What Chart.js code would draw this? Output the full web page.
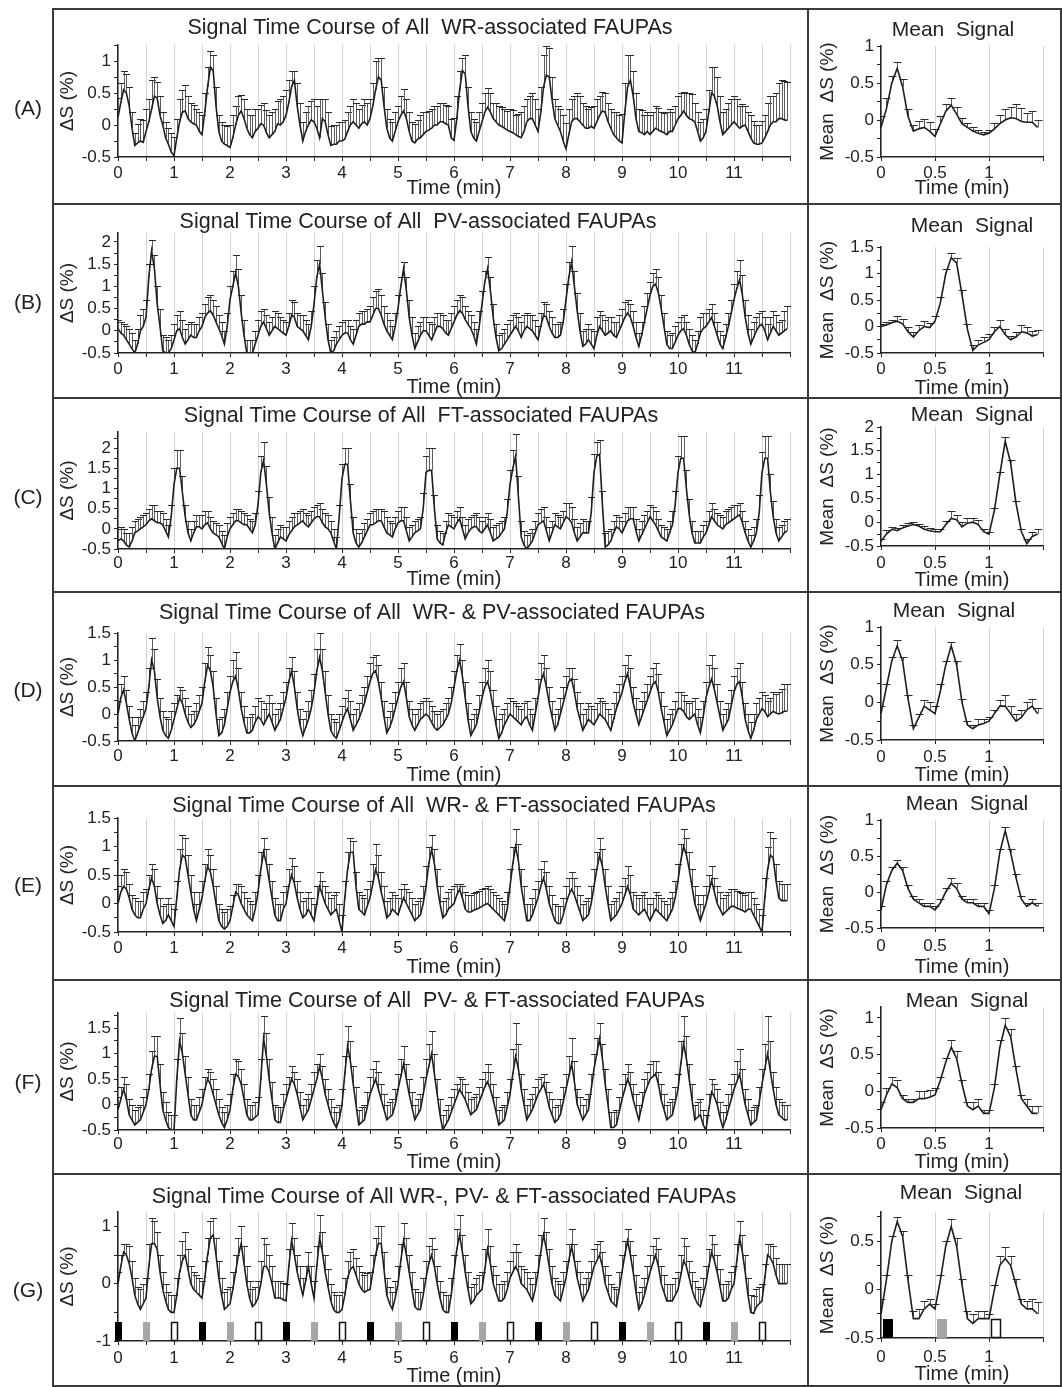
<!DOCTYPE html>
<html>
<head>
<meta charset="utf-8">
<title>Signal Time Course of FAUPAs</title>
<script src="https://cdn.jsdelivr.net/npm/chart.js@4.4.1/dist/chart.umd.min.js"></script>
<style>
  html, body { margin: 0; padding: 0; background: #fff; }
  body { position: relative; width: 1062px; height: 1387px; overflow: hidden; font-family: "Liberation Sans", Arial, sans-serif; color: #222; }
  canvas { position: absolute; }
  .rule { position: absolute; background: #3a3a3a; z-index: 2; }
  .tag { position: absolute; left: 0; width: 56px; text-align: center; font-size: 21px; line-height: 24px; }
</style>
</head>
<body>
<script>
// sampling: left panels every 0.05 min (240 samples), mean panels every 0.05 min over one cycle
const leftStep = 0.05;
const leftTime = Array.from({ length: 240 }, (_, i) => Math.round(i * leftStep * 100) / 100);
const meanTime = [0, 0.05, 0.1, 0.15, 0.2, 0.25, 0.3, 0.35, 0.4, 0.45, 0.5, 0.55, 0.6, 0.65, 0.7,
  0.75, 0.8, 0.85, 0.9, 0.95, 1, 1.05, 1.1, 1.15, 1.2, 1.25, 1.3, 1.35, 1.4, 1.45];

const panelTags = ['(A)', '(B)', '(C)', '(D)', '(E)', '(F)', '(G)'];
const panelTitles = [
  'Signal Time Course of All  WR-associated FAUPAs',
  'Signal Time Course of All  PV-associated FAUPAs',
  'Signal Time Course of All  FT-associated FAUPAs',
  'Signal Time Course of All  WR- & PV-associated FAUPAs',
  'Signal Time Course of All  WR- & FT-associated FAUPAs',
  'Signal Time Course of All  PV- & FT-associated FAUPAs',
  'Signal Time Course of All WR-, PV- & FT-associated FAUPAs'
];
const meanTitle = 'Mean  Signal';
const meanXTitles = ['Time (min)', 'Time (min)', 'Time (min)', 'Time (min)', 'Time (min)', 'Timg (min)', 'Time (min)'];

// (A) WR — one row per minute
const wrSig = [
  0.12, 0.35, 0.55, 0.5, 0.3, -0.05, -0.32, -0.28, -0.25, -0.27, -0.1, 0.05, 0.25, 0.45, 0.42, 0.15, 0, -0.2, -0.3, -0.42,
  -0.48, -0.2, 0.05, 0.2, 0.22, 0.1, 0.05, 0.02, 0, -0.1, -0.15, 0.2, 0.6, 0.9, 0.85, 0.3, -0.1, -0.25, -0.3, -0.32,
  -0.35, -0.2, 0, 0.15, 0.22, 0.1, -0.05, -0.15, -0.2, -0.1, -0.05, 0.02, 0, -0.12, -0.2, -0.15, -0.1, 0.02, 0, 0.05,
  0.15, 0.35, 0.6, 0.7, 0.3, 0, -0.25, -0.1, 0, 0.08, 0.05, -0.05, -0.2, 0.1, 0.05, -0.15, -0.32, -0.3, -0.3, -0.25,
  -0.25, -0.22, -0.1, 0, 0.05, 0, -0.05, 0.02, 0.05, 0, 0.1, 0.3, 0.55, 0.75, 0.7, 0.3, -0.05, -0.2, -0.25, -0.1,
  0.05, 0.15, 0.22, 0.1, -0.1, -0.25, -0.28, -0.22, -0.2, -0.15, -0.1, -0.08, -0.05, 0, 0, 0.05, 0.05, 0.02, 0, -0.2,
  -0.24, 0.1, 0.55, 0.85, 0.8, 0.3, -0.1, -0.2, -0.25, -0.1, 0.05, 0.2, 0.28, 0.2, 0.1, 0.05, 0, -0.02, -0.05, -0.08,
  -0.1, -0.12, -0.15, -0.18, -0.2, -0.1, 0.05, 0.1, 0.1, 0, -0.1, 0.2, 0.6, 0.78, 0.75, 0.4, 0.1, 0, -0.1, -0.25,
  -0.37, -0.15, 0.05, 0.1, 0.1, 0.05, 0, -0.05, -0.05, -0.02, -0.05, 0.05, 0.15, 0.22, 0.2, 0.05, -0.05, -0.15, -0.2, -0.25,
  -0.28, 0.2, 0.6, 0.7, 0.45, 0.1, -0.1, -0.12, -0.15, -0.1, -0.15, -0.1, -0.05, -0.08, -0.1, -0.12, -0.15, -0.1, -0.1, 0,
  0.1, 0.15, 0.22, 0.15, 0.1, 0.08, 0.05, -0.1, -0.25, -0.2, -0.1, 0.2, 0.5, 0.45, 0.3, 0.05, -0.15, -0.1, -0.05, 0,
  0.05, 0, -0.05, -0.02, 0, -0.1, -0.2, -0.28, -0.3, -0.3, -0.28, -0.2, -0.1, 0, 0.05, 0.05, 0.1, 0.1, 0.08, 0.07];
const wrErr = [
  .3, .3, .3, .3, .3, .25, .2, .3, .35, .35, .35, .35, .45, .3, .25, .3, .2, .25, .25, .3,
  .3, .3, .35, .35, .4, .35, .3, .3, .25, .3, .3, .3, .3, .25, .25, .3, .25, .3, .3, .3,
  .35, .35, .3, .3, .25, .3, .3, .3, .35, .35, .3, .3, .35, .35, .35, .35, .35, .35, .4, .4,
  .4, .35, .25, .15, .35, .35, .3, .3, .3, .3, .35, .35, .6, .3, .35, .35, .3, .3, .3, .3,
  .3, .3, .3, .3, .35, .35, .3, .3, .35, .35, .3, .35, .45, .3, .35, .3, .3, .3, .3, .3,
  .25, .3, .35, .3, .3, .3, .3, .3, .35, .35, .3, .3, .3, .3, .3, .3, .3, .3, .3, .3,
  .35, .35, .3, .2, .3, .3, .3, .3, .3, .3, .3, .3, .3, .3, .25, .3, .3, .3, .3, .3,
  .35, .35, .3, .35, .4, .4, .35, .35, .4, .4, .35, .4, .5, .45, .45, .35, .3, .3, .35, .4,
  .4, .4, .35, .35, .4, .4, .35, .35, .3, .3, .35, .35, .3, .3, .3, .3, .3, .35, .4, .4,
  .45, .45, .5, .4, .4, .4, .35, .35, .3, .3, .3, .3, .35, .35, .3, .3, .35, .35, .3, .3,
  .35, .35, .3, .35, .4, .4, .3, .3, .3, .3, .35, .35, .4, .45, .45, .4, .35, .35, .4, .4,
  .4, .4, .35, .35, .3, .3, .35, .35, .3, .3, .35, .35, .45, .45, .4, .45, .55, .6, .6, .6];

// (B) PV
const pvSig = [
  0.05, -0.05, -0.1, -0.2, -0.3, -0.4, -0.5, -0.3, 0, 0.1, 0.3, 1.2, 1.8, 1.4, 0.6, 0.1, -0.45, -0.5, -0.5, -0.4,
  -0.2, 0, 0.05, -0.15, -0.3, -0.2, -0.1, -0.15, -0.15, 0, 0.1, 0.3, 0.4, 0.45, 0.35, 0.2, 0.05, -0.1, -0.3, 0.1,
  0.7, 1, 1.3, 1, 0.4, -0.1, -0.5, -0.5, -0.5, -0.3, -0.1, 0.1, 0.2, 0.05, -0.1, 0, 0.1, 0.05, 0, -0.05,
  -0.1, 0.1, 0.35, 0.3, 0.1, 0.05, 0, -0.1, -0.2, 0.1, 0.6, 1.2, 1.5, 0.9, 0.3, -0.2, -0.5, -0.45, -0.3, -0.2,
  -0.1, -0.05, -0.05, -0.2, -0.3, -0.1, 0.1, 0.15, 0.15, 0.2, 0.2, 0.35, 0.5, 0.5, 0.35, 0.15, 0, -0.1, -0.2, 0.1,
  0.5, 1, 1.4, 0.9, 0.3, -0.1, -0.4, -0.25, -0.1, 0, 0, -0.1, -0.2, -0.05, 0.1, 0.1, 0.05, -0.05, -0.1, 0.05,
  0.2, 0.35, 0.45, 0.4, 0.25, 0.15, 0.05, -0.1, -0.3, 0.1, 0.6, 1.1, 1.4, 0.9, 0.3, -0.15, -0.45, -0.4, -0.3, -0.2,
  -0.1, 0, 0.1, 0, -0.15, 0, 0.1, 0.05, 0, -0.1, -0.2, 0.1, 0.35, 0.3, 0.1, -0.05, -0.15, -0.15, -0.1, 0.2,
  0.7, 1.2, 1.55, 1, 0.45, 0, -0.35, -0.3, -0.2, -0.3, -0.4, -0.1, 0.1, 0, -0.1, -0.05, 0, -0.1, -0.15, 0,
  0.15, 0.3, 0.4, 0.3, 0.1, -0.15, -0.35, -0.1, 0.2, 0.5, 0.8, 1, 1.05, 0.85, 0.5, 0.1, -0.3, -0.4, -0.4, -0.25,
  -0.1, 0, 0.05, -0.1, -0.3, -0.45, -0.5, -0.3, -0.05, 0.05, 0.1, 0.2, 0.3, 0.1, -0.1, -0.3, -0.4, -0.15, 0.1, 0.4,
  0.7, 0.95, 1.15, 0.8, 0.3, -0.05, -0.3, -0.15, 0, 0.1, 0.15, 0, -0.2, -0.05, 0.1, 0, -0.1, -0.05, 0, 0.05];
const pvErr = [
  .2, .25, .25, .3, .35, .35, .3, .35, .35, .4, .4, .3, .25, .3, .4, .4, .35, .35, .3, .3,
  .35, .35, .4, .4, .35, .35, .3, .3, .3, .3, .3, .3, .35, .35, .35, .35, .3, .3, .3, .3,
  .3, .35, .4, .4, .4, .35, .3, .3, .3, .3, .35, .35, .3, .3, .3, .3, .35, .35, .3, .3,
  .3, .3, .35, .35, .3, .3, .35, .35, .35, .35, .4, .4, .4, .4, .35, .35, .3, .3, .3, .3,
  .3, .3, .3, .3, .35, .35, .3, .3, .3, .3, .35, .4, .4, .45, .45, .4, .4, .35, .3, .3,
  .3, .2, .15, .3, .4, .4, .35, .35, .3, .3, .3, .3, .35, .35, .3, .3, .3, .3, .35, .35,
  .35, .35, .35, .35, .3, .3, .3, .3, .35, .35, .3, .25, .25, .3, .3, .3, .35, .35, .35, .35,
  .35, .35, .3, .3, .35, .35, .3, .3, .35, .35, .3, .3, .3, .3, .35, .35, .3, .3, .3, .3,
  .35, .35, .35, .35, .4, .4, .35, .35, .35, .35, .4, .4, .35, .35, .35, .35, .3, .3, .35, .35,
  .35, .35, .3, .3, .35, .35, .3, .3, .35, .35, .3, .3, .35, .35, .3, .3, .3, .3, .35, .35,
  .3, .3, .3, .3, .35, .35, .3, .3, .35, .35, .3, .3, .3, .3, .3, .3, .3, .3, .3, .3,
  .35, .4, .45, .45, .4, .4, .35, .35, .3, .3, .3, .3, .35, .35, .35, .35, .3, .3, .45, .5];

// (C) FT
const ftSig = [
  -0.3, -0.25, -0.3, -0.4, -0.45, -0.3, -0.1, -0.05, 0, 0.05, 0.1, 0.2, 0.25, 0.2, 0.15, 0.15, 0.1, -0.05, -0.2, 0.3,
  1.1, 1.5, 1.5, 0.9, 0.3, -0.1, -0.3, -0.1, 0.05, 0.05, 0, 0.1, 0.15, 0, -0.1, -0.15, -0.2, -0.35, -0.5, -0.2,
  0, 0.1, 0.2, 0.2, 0.15, 0.1, 0.1, 0, -0.1, 0.1, 0.6, 1.4, 1.7, 1.1, 0.4, -0.1, -0.5, -0.35, -0.2, -0.25,
  -0.3, -0.15, -0.05, 0.05, 0.1, 0.15, 0.2, 0.1, 0.05, 0.15, 0.25, 0.3, 0.3, 0.15, 0.05, 0, -0.1, -0.3, -0.5, 0.3,
  1.25, 1.6, 1.6, 0.7, -0.1, -0.35, -0.45, -0.35, -0.2, -0.05, 0.1, 0.1, 0.15, 0.2, 0.2, 0.05, -0.1, -0.15, -0.2, 0,
  0.15, 0.2, 0.2, -0.05, -0.3, -0.2, -0.1, -0.05, 0, 0.5, 1.4, 1.45, 1.45, 0.5, -0.25, -0.35, -0.4, -0.1, 0.1, 0.05,
  0, 0.15, 0.25, 0, -0.25, -0.1, 0, 0.05, 0.05, -0.05, -0.1, 0, 0.1, -0.1, -0.3, -0.25, -0.2, -0.1, 0, 0.4,
  1.1, 1.5, 1.8, 0.8, -0.2, -0.4, -0.5, -0.4, -0.3, -0.1, 0.1, 0.15, 0.2, -0.05, -0.3, -0.1, 0.1, 0.05, 0, 0.15,
  0.3, 0.25, 0.15, -0.1, -0.3, -0.2, -0.1, -0.1, -0.1, 0.4, 1.4, 1.8, 1.85, 0.6, -0.45, -0.4, -0.3, -0.1, 0.05, 0,
  -0.1, 0.05, 0.2, 0.25, 0.25, -0.05, -0.3, -0.15, 0, 0.15, 0.3, 0.2, 0.1, -0.05, -0.2, -0.25, -0.3, -0.1, 0.1, 0.6,
  1.4, 1.75, 1.75, 1, 0.35, -0.1, -0.35, -0.35, -0.35, -0.2, -0.1, 0.1, 0.3, 0.2, 0.1, 0.05, 0, 0.1, 0.15, 0.2,
  0.25, 0.3, 0.35, 0.15, -0.1, -0.3, -0.45, -0.3, -0.1, 0.4, 1.4, 1.75, 1.75, 0.9, 0.3, -0.1, -0.3, -0.2, -0.1, -0.05];
const ftErr = [
  .3, .3, .3, .3, .35, .35, .3, .3, .3, .3, .3, .3, .35, .4, .3, .3, .3, .3, .3, .3,
  .4, .45, .45, .4, .3, .3, .3, .3, .3, .3, .35, .35, .3, .3, .3, .3, .3, .3, .35, .35,
  .3, .3, .3, .3, .3, .3, .25, .25, .3, .3, .35, .4, .45, .45, .4, .4, .35, .35, .3, .3,
  .35, .35, .35, .35, .3, .3, .3, .3, .3, .3, .3, .3, .35, .35, .35, .35, .3, .3, .3, .3,
  .35, .4, .4, .4, .4, .35, .35, .35, .35, .3, .3, .35, .35, .3, .3, .4, .4, .35, .35, .3,
  .3, .35, .35, .35, .35, .3, .3, .3, .3, .4, .4, .55, .55, .35, .35, .3, .3, .3, .3, .3,
  .3, .3, .3, .3, .35, .35, .3, .3, .35, .35, .3, .3, .3, .35, .35, .35, .35, .3, .3, .35,
  .35, .45, .55, .5, .4, .35, .35, .3, .3, .3, .3, .35, .35, .35, .35, .3, .3, .3, .3, .3,
  .35, .4, .4, .35, .35, .35, .35, .3, .3, .4, .45, .35, .35, .35, .35, .35, .3, .3, .3, .3,
  .3, .35, .35, .3, .3, .3, .3, .35, .35, .3, .3, .35, .35, .3, .3, .3, .3, .3, .35, .35,
  .4, .55, .55, .45, .4, .3, .3, .3, .3, .3, .3, .35, .35, .3, .3, .3, .3, .35, .35, .35,
  .35, .3, .3, .3, .3, .3, .3, .35, .35, .45, .5, .55, .55, .45, .4, .35, .35, .3, .3, .3];

// (D) WR & PV
const wrpvSig = [
  0, 0.3, 0.45, 0.2, -0.1, -0.35, -0.5, -0.35, -0.2, -0.05, 0.1, 0.5, 1, 0.8, 0.3, -0.05, -0.3, -0.4, -0.45, -0.3,
  -0.1, 0.1, 0.3, 0.2, 0, -0.15, -0.25, -0.2, -0.1, 0.05, 0.2, 0.6, 0.9, 0.8, 0.5, 0, -0.4, -0.35, -0.2, 0.1,
  0.4, 0.6, 0.7, 0.45, 0.1, -0.15, -0.35, -0.35, -0.3, -0.15, -0.05, -0.1, -0.2, -0.1, 0, -0.15, -0.3, -0.2, -0.1, 0.1,
  0.3, 0.6, 0.8, 0.5, 0.1, -0.2, -0.4, -0.25, -0.1, 0.1, 0.4, 0.8, 1.05, 0.8, 0.4, 0, -0.3, -0.4, -0.45, -0.3,
  -0.15, 0, 0.1, -0.1, -0.3, -0.2, -0.1, 0.05, 0.2, 0.4, 0.6, 0.75, 0.8, 0.6, 0.3, -0.05, -0.35, -0.25, -0.1, 0.1,
  0.3, 0.5, 0.6, 0.3, -0.05, -0.2, -0.3, -0.2, -0.1, -0.05, 0, -0.05, -0.15, -0.25, -0.3, -0.25, -0.2, -0.1, 0, 0.2,
  0.5, 0.8, 1, 0.7, 0.3, -0.1, -0.4, -0.3, -0.2, 0.05, 0.3, 0.5, 0.6, 0.4, 0.1, -0.2, -0.45, -0.35, -0.2, -0.1,
  0, -0.05, -0.1, -0.15, -0.2, -0.1, -0.05, -0.2, -0.3, 0, 0.3, 0.6, 0.75, 0.5, 0.2, -0.05, -0.3, -0.2, 0, 0.2,
  0.4, 0.6, 0.65, 0.4, 0.1, -0.1, -0.3, -0.2, -0.1, -0.15, -0.2, -0.1, 0, -0.05, -0.1, -0.2, -0.3, -0.1, 0.1, 0.25,
  0.4, 0.6, 0.75, 0.5, 0.2, 0, -0.2, -0.05, 0.1, 0.25, 0.4, 0.55, 0.6, 0.4, 0.1, -0.15, -0.4, -0.3, -0.2, -0.05,
  0.1, 0.1, 0.05, -0.05, -0.1, -0.05, 0, -0.2, -0.35, -0.05, 0.3, 0.5, 0.65, 0.45, 0.2, -0.05, -0.3, -0.2, -0.1, 0.15,
  0.4, 0.55, 0.6, 0.3, -0.1, -0.3, -0.45, -0.3, -0.1, 0, 0.1, 0.05, -0.05, 0, 0.05, 0.02, 0, 0.02, 0.05, 0.05];
const wrpvErr = [
  .25, .25, .25, .25, .25, .3, .3, .3, .3, .3, .3, .35, .4, .4, .35, .35, .35, .35, .35, .35,
  .3, .25, .2, .25, .3, .3, .25, .25, .3, .3, .3, .35, .35, .3, .3, .3, .3, .3, .3, .3,
  .3, .4, .45, .4, .3, .3, .3, .3, .3, .3, .35, .35, .3, .3, .35, .35, .3, .3, .3, .3,
  .3, .25, .25, .3, .3, .3, .3, .3, .35, .35, .35, .4, .45, .4, .4, .35, .3, .3, .3, .3,
  .3, .3, .35, .35, .3, .3, .3, .3, .3, .3, .35, .3, .3, .3, .3, .3, .3, .3, .3, .3,
  .3, .35, .35, .3, .3, .3, .3, .3, .3, .3, .3, .3, .3, .3, .3, .3, .3, .3, .3, .3,
  .3, .3, .3, .3, .3, .3, .3, .3, .3, .3, .3, .35, .4, .4, .35, .35, .35, .35, .3, .3,
  .3, .3, .3, .3, .3, .3, .3, .3, .3, .3, .35, .35, .35, .35, .3, .3, .3, .3, .3, .3,
  .3, .25, .2, .25, .3, .3, .3, .3, .3, .3, .3, .3, .3, .3, .3, .3, .3, .3, .3, .3,
  .3, .3, .35, .35, .3, .3, .3, .3, .3, .3, .3, .3, .35, .35, .3, .3, .3, .3, .3, .3,
  .3, .3, .3, .3, .3, .3, .3, .3, .3, .3, .3, .4, .45, .4, .35, .3, .3, .3, .3, .3,
  .3, .3, .35, .3, .3, .3, .3, .3, .3, .3, .3, .3, .3, .3, .35, .35, .4, .45, .5, .5];

// (E) WR & FT
const wrftSig = [
  0, 0.2, 0.3, 0.25, 0.1, -0.1, -0.2, -0.25, -0.25, -0.1, 0, 0.25, 0.45, 0.3, 0, -0.2, -0.35, -0.3, -0.2, -0.3,
  -0.4, 0.1, 0.6, 0.85, 0.8, 0.5, 0.2, -0.1, -0.3, -0.1, 0.1, 0.4, 0.65, 0.55, 0.3, 0, -0.3, -0.4, -0.45, -0.4,
  -0.3, -0.05, 0.2, 0.15, 0, -0.1, -0.2, -0.25, -0.3, -0.1, 0.2, 0.6, 0.9, 0.7, 0.4, 0.1, -0.2, -0.3, -0.3, -0.1,
  0, 0.3, 0.5, 0.35, 0.1, -0.1, -0.25, -0.2, -0.1, -0.2, -0.3, 0, 0.3, 0.15, 0, -0.1, -0.2, -0.15, -0.1, -0.3,
  -0.5, 0.1, 0.6, 0.9, 0.9, 0.3, -0.1, -0.15, -0.2, -0.05, 0.1, 0.35, 0.6, 0.45, 0.2, 0, -0.25, -0.2, -0.1, -0.15,
  -0.2, -0.05, 0.1, 0, -0.1, -0.2, -0.3, -0.25, -0.2, 0, 0.3, 0.7, 0.95, 0.7, 0.3, 0, -0.25, -0.2, -0.1, -0.05,
  0, 0.15, 0.25, 0.1, -0.1, -0.15, -0.15, -0.12, -0.1, -0.08, -0.05, -0.02, 0, -0.05, -0.1, -0.15, -0.2, -0.25, -0.3, -0.1,
  0.3, 0.7, 1, 0.75, 0.3, 0, -0.3, -0.3, -0.2, -0.05, 0.1, 0.3, 0.45, 0.25, 0, -0.15, -0.3, -0.35, -0.35, -0.2,
  0, 0.15, 0.25, 0.15, 0, -0.15, -0.3, -0.25, -0.2, 0, 0.3, 0.6, 0.85, 0.65, 0.3, 0, -0.3, -0.25, -0.2, -0.1,
  0, 0.15, 0.3, 0.15, -0.1, -0.15, -0.2, -0.15, -0.1, -0.2, -0.3, -0.2, -0.1, -0.15, -0.2, -0.25, -0.3, -0.2, -0.1, 0.1,
  0.4, 0.75, 1, 0.85, 0.6, 0.3, 0, -0.15, -0.3, -0.15, 0, 0.2, 0.4, 0.2, 0, -0.1, -0.2, -0.15, -0.1, -0.05,
  -0.05, -0.08, -0.1, -0.12, -0.15, -0.1, -0.1, -0.2, -0.3, -0.4, -0.5, 0.1, 0.6, 0.85, 0.8, 0.4, 0.1, 0.05, 0.05, 0.05];
const wrftErr = [
  .3, .3, .3, .3, .25, .25, .3, .3, .3, .3, .25, .25, .25, .3, .3, .3, .3, .3, .3, .3,
  .3, .3, .35, .35, .35, .35, .3, .3, .3, .3, .3, .3, .3, .3, .3, .3, .3, .3, .3, .3,
  .25, .2, .15, .2, .3, .3, .3, .3, .3, .3, .3, .3, .25, .25, .3, .3, .3, .3, .3, .3,
  .3, .3, .3, .3, .3, .3, .3, .3, .3, .3, .3, .3, .25, .25, .3, .3, .3, .3, .3, .3,
  .3, .3, .3, .25, .2, .25, .3, .3, .3, .3, .3, .35, .45, .4, .35, .3, .3, .3, .3, .3,
  .3, .3, .25, .25, .3, .3, .3, .3, .3, .3, .35, .3, .25, .25, .3, .3, .3, .3, .3, .3,
  .3, .2, .1, .2, .3, .3, .3, .3, .3, .3, .3, .3, .3, .3, .3, .3, .3, .3, .3, .3,
  .3, .3, .3, .3, .3, .3, .3, .3, .3, .3, .3, .3, .3, .3, .3, .3, .3, .3, .3, .3,
  .3, .3, .3, .3, .3, .3, .3, .3, .3, .3, .3, .3, .3, .3, .3, .3, .3, .3, .3, .3,
  .3, .3, .35, .35, .3, .3, .3, .3, .3, .3, .3, .3, .3, .3, .3, .3, .3, .3, .3, .3,
  .3, .3, .3, .3, .3, .3, .3, .3, .3, .3, .3, .3, .25, .25, .3, .3, .3, .3, .3, .3,
  .3, .3, .3, .3, .3, .3, .3, .3, .3, .3, .3, .35, .4, .4, .35, .3, .3, .3, .3, .3];

// (F) PV & FT
const pvftSig = [
  -0.1, 0.1, 0.3, 0.1, -0.2, -0.3, -0.4, -0.35, -0.3, -0.15, 0, 0.3, 0.7, 0.95, 0.95, 0.4, -0.1, -0.3, -0.45, -0.5,
  -0.5, 0.5, 1.25, 1, 0.6, 0.2, -0.2, -0.3, -0.3, -0.15, 0, 0.3, 0.5, 0.4, 0.2, 0, -0.2, -0.35, -0.45, -0.3,
  -0.1, 0.3, 0.6, 0.55, 0.4, 0.1, -0.2, -0.3, -0.3, -0.25, -0.2, 0.5, 1.3, 0.95, 0.5, 0.1, -0.3, -0.35, -0.35, -0.1,
  0.1, 0.3, 0.5, 0.4, 0.2, -0.05, -0.3, -0.2, -0.1, 0.1, 0.3, 0.5, 0.75, 0.5, 0.2, 0, -0.2, -0.35, -0.45, -0.3,
  0, 0.6, 1.15, 0.85, 0.4, 0, -0.4, -0.35, -0.3, -0.05, 0.2, 0.35, 0.5, 0.3, 0.1, -0.1, -0.3, -0.25, -0.2, 0,
  0.3, 0.55, 0.8, 0.5, 0.2, -0.05, -0.3, -0.2, -0.1, 0.2, 0.5, 0.75, 1, 0.6, 0.2, -0.2, -0.5, -0.4, -0.3, -0.15,
  0, 0.15, 0.3, 0.2, 0.1, -0.05, -0.2, -0.15, -0.1, 0.05, 0.2, 0.35, 0.45, 0.3, 0.1, -0.15, -0.4, -0.35, -0.3, -0.05,
  0.2, 0.6, 0.95, 0.7, 0.3, 0, -0.3, -0.2, -0.1, 0.05, 0.2, 0.3, 0.4, 0.2, -0.05, -0.2, -0.35, -0.3, -0.2, 0.05,
  0.3, 0.55, 0.8, 0.45, 0, -0.15, -0.3, -0.2, -0.1, 0.3, 0.7, 1, 1.3, 0.9, 0.4, 0, -0.45, -0.45, -0.4, -0.15,
  0.1, 0.3, 0.5, 0.35, 0.1, -0.1, -0.3, -0.05, 0.2, 0.35, 0.5, 0.55, 0.6, 0.4, 0.1, -0.1, -0.3, -0.25, -0.2, 0.05,
  0.3, 0.8, 1.2, 0.9, 0.5, 0.1, -0.3, -0.25, -0.2, -0.4, -0.5, -0.1, 0.25, 0.15, 0, -0.25, -0.45, -0.3, -0.1, 0.1,
  0.3, 0.45, 0.6, 0.3, 0, -0.2, -0.4, -0.35, -0.3, 0.05, 0.4, 0.7, 1, 0.65, 0.3, 0, -0.2, -0.25, -0.3, -0.3];
const pvftErr = [
  .25, .25, .25, .3, .3, .3, .3, .3, .3, .3, .3, .3, .35, .4, .4, .4, .35, .35, .3, .3,
  .3, .4, .45, .4, .35, .35, .3, .3, .3, .3, .3, .25, .2, .25, .3, .3, .3, .3, .3, .3,
  .3, .3, .3, .3, .3, .3, .3, .3, .3, .3, .35, .4, .45, .45, .4, .35, .3, .3, .3, .3,
  .3, .25, .25, .25, .3, .3, .3, .3, .3, .3, .35, .3, .25, .25, .3, .3, .3, .3, .3, .3,
  .3, .35, .4, .4, .35, .35, .3, .3, .3, .3, .35, .35, .35, .35, .3, .3, .3, .3, .3, .3,
  .3, .35, .35, .3, .3, .3, .3, .3, .3, .35, .4, .45, .45, .4, .3, .3, .3, .3, .3, .3,
  .3, .25, .25, .3, .3, .3, .3, .3, .3, .3, .3, .3, .35, .35, .3, .3, .3, .3, .3, .3,
  .3, .5, .65, .5, .3, .3, .3, .3, .3, .3, .3, .25, .2, .25, .3, .3, .3, .3, .3, .3,
  .3, .4, .5, .4, .3, .3, .3, .3, .3, .3, .3, .3, .3, .3, .3, .3, .3, .3, .3, .3,
  .3, .3, .3, .3, .3, .3, .3, .3, .3, .3, .3, .3, .25, .25, .3, .3, .3, .3, .3, .3,
  .3, .45, .55, .45, .3, .3, .3, .3, .3, .3, .3, .3, .25, .25, .3, .3, .3, .3, .3, .3,
  .3, .4, .5, .4, .3, .3, .3, .3, .3, .3, .3, .5, .75, .6, .35, .35, .3, .3, .3, .3];

// (G) WR, PV & FT
const allSig = [
  0, 0.3, 0.55, 0.5, 0.35, 0.1, -0.2, -0.35, -0.45, -0.35, -0.25, 0.3, 0.7, 0.7, 0.6, 0.2, -0.1, -0.3, -0.45, -0.5,
  -0.5, -0.2, 0.2, 0.4, 0.5, 0.25, 0, -0.1, -0.15, -0.2, -0.25, 0.1, 0.5, 0.8, 0.85, 0.5, 0.1, -0.2, -0.45, -0.4,
  -0.35, -0.1, 0.2, 0.5, 0.7, 0.35, 0, -0.25, -0.4, -0.35, -0.25, 0, 0.3, 0.3, 0.2, 0, -0.25, -0.25, -0.25, -0.28,
  -0.3, 0.3, 0.75, 0.5, 0.2, 0, -0.2, 0.05, 0.3, 0, -0.25, 0.3, 0.8, 0.55, 0.2, -0.05, -0.3, -0.45, -0.5, -0.5,
  -0.45, -0.2, 0.1, 0.25, 0.3, 0.15, 0, -0.1, -0.15, -0.12, -0.1, 0.2, 0.5, 0.7, 0.7, 0.25, -0.2, -0.35, -0.45, -0.25,
  0, 0.4, 0.75, 0.5, 0.2, -0.1, -0.4, -0.45, -0.45, -0.2, 0.1, 0.35, 0.5, 0.3, 0, -0.25, -0.45, -0.5, -0.5, -0.2,
  0.2, 0.6, 0.85, 0.55, 0.2, -0.1, -0.35, -0.3, -0.2, -0.15, -0.1, 0.25, 0.6, 0.35, 0, -0.15, -0.3, -0.3, -0.25, -0.1,
  0.1, 0.2, 0.3, 0.2, 0, -0.05, -0.1, -0.2, -0.3, -0.1, 0.2, 0.55, 0.85, 0.6, 0.3, 0, -0.2, -0.25, -0.3, -0.1,
  0.1, 0.4, 0.65, 0.4, 0.1, -0.1, -0.3, -0.2, -0.1, 0.1, 0.3, 0.4, 0.5, 0.3, 0, -0.15, -0.3, -0.35, -0.4, -0.1,
  0.2, 0.5, 0.75, 0.5, 0.2, -0.15, -0.45, -0.35, -0.2, 0, 0.2, 0.35, 0.5, 0.3, 0, -0.15, -0.3, -0.3, -0.3, -0.2,
  -0.1, 0.15, 0.4, 0.3, 0.1, -0.1, -0.25, -0.35, -0.4, -0.2, 0, 0.3, 0.55, 0.4, 0.2, -0.05, -0.3, -0.3, -0.25, -0.1,
  0, 0.4, 0.8, 0.55, 0.2, -0.2, -0.5, -0.52, -0.4, -0.35, -0.3, 0.1, 0.5, 0.45, 0.35, 0.15, 0, 0, 0, 0];
const allErr = [
  .2, .2, .15, .2, .3, .3, .3, .3, .35, .35, .35, .4, .45, .4, .3, .3, .3, .3, .3, .3,
  .3, .3, .3, .35, .4, .35, .3, .3, .3, .3, .3, .3, .3, .3, .3, .3, .3, .3, .3, .3,
  .3, .3, .3, .3, .3, .3, .3, .3, .3, .3, .3, .4, .5, .4, .3, .3, .3, .3, .3, .3,
  .3, .3, .3, .3, .3, .3, .3, .25, .25, .3, .3, .35, .4, .35, .3, .3, .3, .3, .3, .3,
  .3, .3, .3, .3, .3, .3, .3, .3, .3, .3, .3, .3, .3, .3, .3, .3, .3, .3, .3, .3,
  .3, .3, .3, .3, .3, .3, .3, .3, .3, .3, .3, .3, .3, .3, .3, .3, .3, .3, .3, .3,
  .3, .35, .35, .3, .3, .3, .3, .3, .3, .3, .3, .35, .35, .3, .3, .3, .3, .3, .3, .3,
  .3, .35, .4, .35, .3, .3, .3, .3, .3, .3, .3, .3, .3, .3, .3, .3, .3, .3, .3, .3,
  .3, .3, .3, .3, .3, .3, .3, .3, .3, .3, .3, .3, .25, .25, .3, .3, .3, .3, .3, .3,
  .3, .25, .2, .25, .3, .3, .3, .3, .3, .3, .3, .3, .3, .3, .3, .3, .3, .3, .3, .3,
  .3, .35, .4, .35, .3, .3, .3, .3, .3, .3, .3, .3, .3, .3, .3, .3, .3, .3, .3, .3,
  .3, .3, .3, .3, .3, .3, .3, .3, .3, .3, .3, .25, .2, .25, .3, .3, .35, .35, .35, .35];

// mean signal over one 1.5-min cycle
const wrMean = [-0.1, 0.15, 0.5, 0.7, 0.45, 0.05, -0.15, -0.12, -0.1, -0.15, -0.22, -0.05, 0.12, 0.2, 0.08,
  -0.05, -0.1, -0.15, -0.18, -0.2, -0.18, -0.12, -0.05, 0, 0.03, 0.02, -0.02, -0.03, -0.03, -0.1];
const wrMeanErr = [.15, .15, .1, .08, .1, .1, .08, .1, .12, .12, .1, .1, .1, .1, .1,
  .08, .06, .05, .05, .04, .05, .08, .12, .15, .15, .2, .18, .12, .15, .1];
const pvMean = [0, 0.03, 0.07, 0.1, 0.05, -0.1, -0.2, -0.08, 0, -0.02, 0.1, 0.45, 1, 1.3, 1.2,
  0.6, -0.05, -0.45, -0.35, -0.3, -0.25, -0.1, 0, -0.15, -0.25, -0.2, -0.1, -0.12, -0.18, -0.15];
const pvMeanErr = [.05, .05, .06, .1, .1, .1, .1, .1, .1, .08, .1, .1, .08, .08, .1,
  .08, .1, .1, .1, .1, .1, .1, .12, .1, .08, .1, .12, .12, .1, .08];
const ftMean = [-0.4, -0.25, -0.15, -0.18, -0.12, -0.08, -0.05, -0.08, -0.15, -0.18, -0.2, -0.2, -0.05, 0.08, 0.05,
  -0.1, -0.02, 0, -0.05, -0.2, -0.25, 0.25, 1, 1.7, 1.25, 0.4, -0.2, -0.45, -0.3, -0.25];
const ftMeanErr = [.05, .08, .05, .05, .06, .06, .05, .05, .06, .05, .05, .05, .08, .15, .1,
  .1, .1, .08, .1, .05, .05, .05, .05, .08, .05, .05, .06, .1, .1, .1];
const wrpvMean = [-0.15, 0.2, 0.55, 0.75, 0.55, 0.05, -0.35, -0.2, -0.05, -0.1, -0.15, 0.15, 0.5, 0.75, 0.5,
  0, -0.3, -0.35, -0.3, -0.28, -0.25, -0.15, -0.05, -0.05, -0.15, -0.25, -0.2, -0.1, -0.05, -0.15];
const wrpvMeanErr = [.1, .05, .05, .08, .05, .05, .05, .05, .08, .1, .1, .1, .05, .05, .05,
  .05, .05, .05, .08, .06, .05, .05, .08, .15, .1, .1, .1, .1, .1, .08];
const wrftMean = [-0.25, 0.1, 0.3, 0.4, 0.3, 0.05, -0.1, -0.15, -0.2, -0.2, -0.25, -0.15, 0, 0.12, 0.05,
  -0.1, -0.15, -0.15, -0.2, -0.2, -0.3, 0.05, 0.55, 0.85, 0.55, 0.2, -0.1, -0.2, -0.15, -0.2];
const wrftMeanErr = [.05, .05, .05, .05, .05, .05, .05, .05, .05, .05, .05, .05, .05, .08, .08,
  .05, .05, .05, .05, .05, .05, .05, .05, .05, .05, .05, .05, .05, .05, .05];
const pvftMean = [-0.25, -0.05, 0.1, 0.05, -0.1, -0.15, -0.15, -0.1, -0.1, -0.08, -0.05, 0.15, 0.4, 0.6, 0.45,
  0.1, -0.2, -0.25, -0.2, -0.3, -0.3, 0.05, 0.6, 0.9, 0.75, 0.3, -0.1, -0.2, -0.3, -0.3];
const pvftMeanErr = [.1, .1, .1, .1, .05, .05, .05, .1, .1, .1, .1, .05, .05, .1, .1,
  .05, .05, .1, .1, .05, .05, .05, .1, .1, .1, .05, .05, .1, .1, .1];
const allMean = [-0.25, 0.1, 0.5, 0.7, 0.55, 0.1, -0.3, -0.3, -0.2, -0.15, -0.2, 0.1, 0.45, 0.65, 0.45,
  0.05, -0.3, -0.35, -0.3, -0.3, -0.3, 0, 0.25, 0.32, 0.25, 0.05, -0.15, -0.2, -0.2, -0.25];
const allMeanErr = [.15, .05, .05, .05, .05, .05, .08, .1, .08, .05, .05, .05, .05, .08, .08,
  .06, .08, .1, .08, .08, .05, .05, .1, .12, .1, .06, .05, .08, .1, .12];

// stimulus onsets (min) and type, for panel G
const stimOnsets = [0, 0.5, 1, 1.5, 2, 2.5, 3, 3.5, 4, 4.5, 5, 5.5, 6, 6.5, 7, 7.5, 8, 8.5, 9, 9.5, 10, 10.5, 11, 11.5];
const stimKinds = ['WR', 'PV', 'FT', 'WR', 'PV', 'FT', 'WR', 'PV', 'FT', 'WR', 'PV', 'FT',
  'WR', 'PV', 'FT', 'WR', 'PV', 'FT', 'WR', 'PV', 'FT', 'WR', 'PV', 'FT'];
const meanStimOnsets = [0, 0.5, 1];
const meanStimKinds = ['WR', 'PV', 'FT'];
const stimColors = { WR: '#000000', PV: '#a6a6a6', FT: '#ffffff' };

// page layout (absolute pixels)
const LEFT = { x: 55, w: 750, plotL: 118, plotR: 790, yTitleX: 68, ySize: 19, titleSize: 21.5, cap: 3.5 };
const RIGHT = { x: 810, w: 250, plotL: 881, plotR: 1043, yTitleX: 828, ySize: 19, titleSize: 21, cap: 4 };
const rows = [
  { top: 9, bottom: 203, tagY: 108,
    L: { tx: 430, ty: 28, pt: 45, pb: 157, ky: 172, xy: 188 }, R: { tx: 953, ty: 30, pt: 46, pb: 157, ky: 172, xy: 188 } },
  { top: 204, bottom: 397, tagY: 302,
    L: { tx: 418, ty: 222, pt: 233, pb: 353, ky: 368, xy: 387 }, R: { tx: 972, ty: 226, pt: 247, pb: 353, ky: 368, xy: 388 } },
  { top: 398, bottom: 591, tagY: 497,
    L: { tx: 421, ty: 416, pt: 432, pb: 549, ky: 562, xy: 579 }, R: { tx: 972, ty: 415, pt: 427, pb: 546, ky: 562, xy: 580 } },
  { top: 592, bottom: 785, tagY: 690,
    L: { tx: 432, ty: 613, pt: 633, pb: 741, ky: 755, xy: 775 }, R: { tx: 954, ty: 611, pt: 627, pb: 740, ky: 756, xy: 775 } },
  { top: 786, bottom: 979, tagY: 885,
    L: { tx: 444, ty: 806, pt: 818, pb: 932, ky: 947, xy: 967 }, R: { tx: 967, ty: 804, pt: 820, pb: 928, ky: 945, xy: 967 } },
  { top: 980, bottom: 1173, tagY: 1082,
    L: { tx: 437, ty: 1001, pt: 1013, pb: 1130, ky: 1143, xy: 1162 }, R: { tx: 967, ty: 1001, pt: 1007, pb: 1128, ky: 1143, xy: 1162 } },
  { top: 1174, bottom: 1387, tagY: 1290,
    L: { tx: 444, ty: 1197, pt: 1212, pb: 1341, ky: 1357, xy: 1376 }, R: { tx: 961, ty: 1193, pt: 1212, pb: 1338, ky: 1356, xy: 1374 } }
];

const panels = [
  { sig: wrSig, err: wrErr, mean: wrMean, meanErr: wrMeanErr, yl: [-0.5, 1.25], yr: [-0.5, 1] },
  { sig: pvSig, err: pvErr, mean: pvMean, meanErr: pvMeanErr, yl: [-0.5, 2.2], yr: [-0.5, 1.5] },
  { sig: ftSig, err: ftErr, mean: ftMean, meanErr: ftMeanErr, yl: [-0.5, 2.4], yr: [-0.5, 2] },
  { sig: wrpvSig, err: wrpvErr, mean: wrpvMean, meanErr: wrpvMeanErr, yl: [-0.5, 1.5], yr: [-0.5, 1] },
  { sig: wrftSig, err: wrftErr, mean: wrftMean, meanErr: wrftMeanErr, yl: [-0.5, 1.5], yr: [-0.5, 1] },
  { sig: pvftSig, err: pvftErr, mean: pvftMean, meanErr: pvftMeanErr, yl: [-0.5, 1.8], yr: [-0.5, 1.15] },
  { sig: allSig, err: allErr, mean: allMean, meanErr: allMeanErr, yl: [-1, 1.25], yr: [-0.5, 0.8], yStepL: 0.5, yLabelL: 1,
    stimL: { times: stimOnsets, kinds: stimKinds, from: -0.05, to: 0.07, top: -0.67 },
    stimR: { times: meanStimOnsets, kinds: meanStimKinds, from: 0.02, to: 0.11, top: -0.3 } }
];

Chart.defaults.font.family = '"Liberation Sans", Arial, sans-serif';
Chart.defaults.color = '#222';

const isStep = (v, s) => Math.abs(v / s - Math.round(v / s)) < 1e-6;
const fmt = v => String(Math.round(v * 100) / 100);

const errorBarPlugin = {
  id: 'errorBars',
  beforeDatasetsDraw(chart) {
    const { ctx, chartArea: a, scales: { x, y } } = chart;
    ctx.save();
    ctx.beginPath();
    ctx.rect(a.left, a.top - 6, a.right - a.left + 6, a.bottom - a.top + 6);
    ctx.clip();
    ctx.lineWidth = 1;
    chart.data.datasets.forEach(ds => {
      if (!ds.errorBars) return;
      const cap = ds.capHalf;
      ds.data.forEach((p, i) => {
        const px = Math.round(x.getPixelForValue(p.x)) + 0.5;
        const y0 = y.getPixelForValue(p.y);
        const y1 = Math.round(y.getPixelForValue(p.y + ds.errorBars[i])) + 0.5;
        ctx.strokeStyle = '#5c5c5c';
        ctx.beginPath(); ctx.moveTo(px, y0); ctx.lineTo(px, y1); ctx.stroke();
        ctx.strokeStyle = '#2a2a2a';
        ctx.beginPath(); ctx.moveTo(px - cap, y1); ctx.lineTo(px + cap, y1); ctx.stroke();
      });
    });
    ctx.restore();
  }
};

const chartTitlePlugin = {
  id: 'chartTitle',
  afterDraw(chart, args, o) {
    const { ctx } = chart;
    ctx.save();
    ctx.font = o.size + 'px "Liberation Sans", Arial, sans-serif';
    ctx.fillStyle = '#222';
    ctx.textAlign = 'center';
    ctx.textBaseline = 'middle';
    ctx.fillText(o.text, o.x, o.y);
    ctx.restore();
  }
};

function stimPlugin(stim) {
  return {
    id: 'stimBlocks',
    afterDatasetsDraw(chart) {
      if (!stim) return;
      const { ctx, scales: { x, y } } = chart;
      ctx.save();
      stim.times.forEach((t, i) => {
        const x0 = Math.round(x.getPixelForValue(t + stim.from));
        const x1 = Math.round(x.getPixelForValue(t + stim.to));
        const yt = Math.round(y.getPixelForValue(stim.top));
        const yb = Math.round(y.getPixelForValue(y.min));
        const kind = stim.kinds[i];
        ctx.fillStyle = stimColors[kind];
        ctx.fillRect(x0, yt, x1 - x0, yb - yt);
        if (kind === 'FT') {
          ctx.strokeStyle = '#111';
          ctx.lineWidth = 1.5;
          ctx.strokeRect(x0 + 0.5, yt + 0.5, x1 - x0 - 1, yb - yt - 1);
        }
      });
      ctx.restore();
    }
  };
}

// evenly spaced ticks from min, never snapped to max
function stepTicks(step) {
  return s => {
    const n = Math.floor((s.max - s.min) / step + 1e-9);
    const out = [];
    for (let i = 0; i <= n; i++) out.push({ value: Math.round((s.min + i * step) * 1000) / 1000 });
    s.ticks = out;
  };
}

function addChart(side, row, box, spec) {
  const h = row.bottom - row.top;
  const cv = document.createElement('canvas');
  cv.width = side.w;
  cv.height = h;
  cv.style.left = side.x + 'px';
  cv.style.top = row.top + 'px';
  document.body.appendChild(cv);

  const tickFont = { size: 17, lineHeight: 1.2 };
  const xtFont = { size: 20, lineHeight: 1.2 };
  const ytFont = { size: side.ySize, lineHeight: 1.2 };

  new Chart(cv, {
    type: 'line',
    data: {
      datasets: [{
        data: spec.x.map((t, i) => ({ x: t, y: spec.y[i] })),
        errorBars: spec.e,
        capHalf: side.cap,
        borderColor: '#1e1e1e',
        borderWidth: 1.6,
        pointRadius: 0,
        tension: 0
      }]
    },
    options: {
      responsive: false,
      animation: false,
      devicePixelRatio: 1,
      events: [],
      layout: { padding: { top: box.pt - row.top, right: side.w - (side.plotR - side.x), bottom: 0, left: 0 } },
      plugins: {
        legend: { display: false },
        tooltip: { enabled: false },
        chartTitle: { text: spec.title, x: box.tx - side.x, y: box.ty - row.top, size: side.titleSize }
      },
      scales: {
        x: {
          type: 'linear', min: 0, max: spec.xMax,
          afterFit: s => { s.height = row.bottom - box.pb; },
          afterBuildTicks: stepTicks(spec.xStep),
          ticks: {
            autoSkip: false, maxRotation: 0, font: tickFont,
            padding: Math.max(0, box.ky - box.pb - 4 - 0.55 * tickFont.size),
            callback: v => (isStep(v, spec.xLabelStep) && v < spec.xMax - 1e-6) ? fmt(v) : ''
          },
          grid: { color: '#d4d4d4', lineWidth: 1, tickColor: '#222', tickLength: 4 },
          border: { color: '#222', width: 1.5 },
          title: { display: true, text: spec.xTitle, font: xtFont, padding: { top: 0, bottom: row.bottom - box.xy - 0.6 * xtFont.size } }
        },
        y: {
          min: spec.yMin, max: spec.yMax,
          afterFit: s => { s.width = side.plotL - side.x; },
          afterBuildTicks: stepTicks(spec.yStep),
          ticks: {
            autoSkip: false, font: tickFont, padding: 3,
            callback: v => isStep(v, spec.yLabelStep) ? fmt(v) : ''
          },
          grid: { drawOnChartArea: false, tickColor: '#222', tickLength: 4 },
          border: { color: '#222', width: 1.5 },
          title: { display: true, text: spec.yTitle, font: ytFont, padding: { top: side.yTitleX - side.x - ytFont.size * 0.6, bottom: 0 } }
        }
      }
    },
    plugins: [errorBarPlugin, chartTitlePlugin, stimPlugin(spec.stim)]
  });
}

panels.forEach((p, i) => {
  const row = rows[i];
  addChart(LEFT, row, row.L, {
    x: leftTime, y: p.sig, e: p.err, title: panelTitles[i],
    xMax: 12, xStep: 0.5, xLabelStep: 1, xTitle: 'Time (min)',
    yMin: p.yl[0], yMax: p.yl[1], yStep: p.yStepL || 0.25, yLabelStep: p.yLabelL || 0.5, yTitle: 'ΔS (%)',
    stim: p.stimL
  });
  addChart(RIGHT, row, row.R, {
    x: meanTime, y: p.mean, e: p.meanErr, title: meanTitle,
    xMax: 1.5, xStep: 0.5, xLabelStep: 0.5, xTitle: meanXTitles[i],
    yMin: p.yr[0], yMax: p.yr[1], yStep: 0.25, yLabelStep: 0.5, yTitle: 'Mean  ΔS (%)',
    stim: p.stimR
  });
  const tag = document.createElement('div');
  tag.className = 'tag';
  tag.style.top = (row.tagY - 12) + 'px';
  tag.textContent = panelTags[i];
  document.body.appendChild(tag);
});

// figure frame
function rule(l, t, w, h) {
  const d = document.createElement('div');
  d.className = 'rule';
  Object.assign(d.style, { left: l + 'px', top: t + 'px', width: w + 'px', height: h + 'px' });
  document.body.appendChild(d);
}
rule(52, 8, 1010, 2);
rule(52, 8, 2, 1379);
rule(1060, 8, 2, 1379);
rule(807, 8, 2, 1379);
rule(52, 1385, 1010, 2);
[203, 397, 591, 785, 979, 1173].forEach(y => rule(52, y, 1010, 2));
</script>
</body>
</html>
